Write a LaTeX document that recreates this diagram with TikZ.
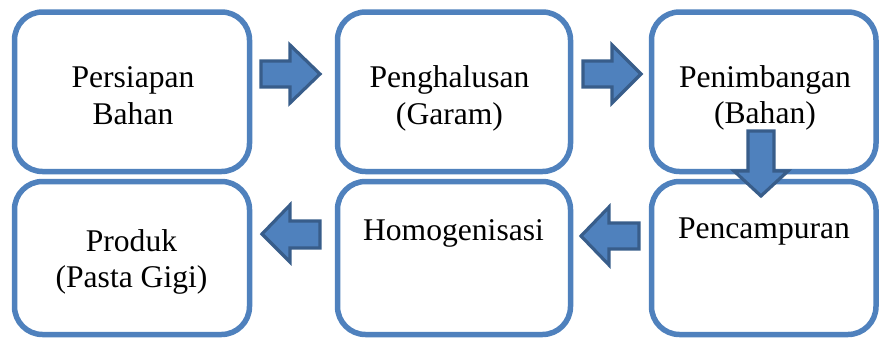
\documentclass[tikz,border=0pt]{standalone}
\usepackage{fontspec}
\setmainfont{Liberation Serif}
\definecolor{boxblue}{HTML}{4F81BD}
\definecolor{arrowedge}{HTML}{385D8A}
\begin{document}
\begin{tikzpicture}[x=1pt,y=-1pt,
  stepbox/.style={draw=boxblue, line width=5.5pt, rounded corners=28pt, fill=white, inner sep=0pt},
  lbl/.style={anchor=base, inner sep=0pt, font=\fontsize{31.6}{37}\selectfont, text=black},
  blockarrow/.style={fill=boxblue, draw=arrowedge, line width=3.2pt, line join=miter}]
\useasboundingbox (0,0) rectangle (879,338);
% boxes
\node[stepbox, minimum width=235pt, minimum height=159.5pt] (b1) at (132,91.75) {};
\node[stepbox, minimum width=233pt, minimum height=159.5pt] (b2) at (454,91.75) {};
\node[stepbox, minimum width=224.5pt, minimum height=159.5pt] (b3) at (763.75,91.75) {};
\node[stepbox, minimum width=235pt, minimum height=153pt] (b4) at (132,258) {};
\node[stepbox, minimum width=233pt, minimum height=153pt] (b5) at (454,258) {};
\node[stepbox, minimum width=224.5pt, minimum height=153pt] (b6) at (763.75,258) {};
% labels
\node[lbl] (t1a) at (133,87) {Persiapan};
\node[lbl] (t1b) at (133,124) {Bahan};
\node[lbl] (t2a) at (449.5,87) {Penghalusan};
\node[lbl] (t2b) at (449.5,124) {(Garam)};
\node[lbl] (t3a) at (765,87) {Penimbangan};
\node[lbl] (t3b) at (765,123) {(Bahan)};
\node[lbl] (t4a) at (131.5,251) {Produk};
\node[lbl] (t4b) at (131.5,287) {(Pasta Gigi)};
\node[lbl] (t5) at (453.5,240) {Homogenisasi};
\node[lbl] (t6) at (764,238) {Pencampuran};
% block arrows
\draw[blockarrow] (261,61) -- (290,61) -- (290,45) -- (320,74) -- (290,103) -- (290,87) -- (261,87) -- cycle;
\draw[blockarrow] (583,61) -- (612,61) -- (612,45) -- (641,74) -- (612,103) -- (612,87) -- (583,87) -- cycle;
\draw[blockarrow] (748,131) -- (774,131) -- (774,171) -- (788,171) -- (761,196) -- (734,171) -- (748,171) -- cycle;
\draw[blockarrow] (639,223) -- (609,223) -- (609,207) -- (581,236) -- (609,265) -- (609,249) -- (639,249) -- cycle;
\draw[blockarrow] (320,221) -- (290,221) -- (290,205) -- (262,234) -- (290,262) -- (290,248) -- (320,248) -- cycle;
\end{tikzpicture}
\end{document}
